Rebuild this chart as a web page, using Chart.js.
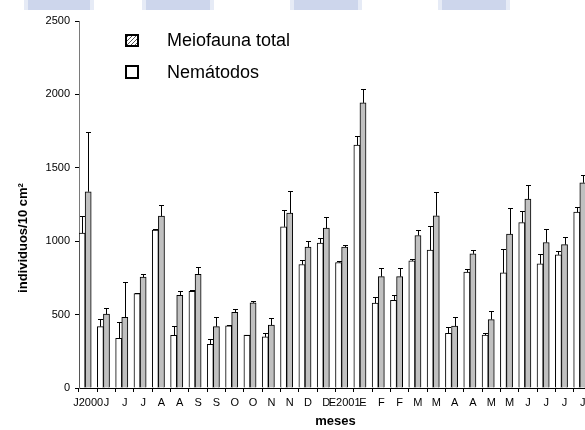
<!DOCTYPE html>
<html>
<head>
<meta charset="utf-8">
<script src="https://cdn.jsdelivr.net/npm/chart.js@4.4.1/dist/chart.umd.min.js"></script>
<style>
  html, body { margin: 0; padding: 0; background: #fff; overflow: hidden; }
  #wrap { width: 585px; height: 430px; overflow: hidden; position: relative; }
  canvas { display: block; }
</style>
</head>
<body>
<div id="wrap"><canvas id="chart" width="593" height="430"></canvas></div>
<script>
const meses = ['J2000', 'J', 'J', 'J', 'A', 'A', 'S', 'S', 'O', 'O', 'N', 'N', 'D', 'D',
               'E2001', 'E', 'F', 'F', 'M', 'M', 'A', 'A', 'M', 'M', 'J', 'J', 'J', 'J'];
const nematodos = [1055, 418, 339, 643, 1075, 359, 659, 298, 423, 361, 348, 1098, 841, 987,
                   855, 1655, 578, 598, 866, 939, 373, 789, 361, 784, 1127, 846, 907, 1198];
const nematodosErr = [120, 50, 109, 7, 5, 66, 9, 34, 4, 3, 25, 114, 32, 36,
                      9, 59, 43, 34, 12, 166, 45, 25, 12, 162, 78, 68, 25, 34];
const meiofauna = [1337, 503, 482, 755, 1171, 632, 775, 418, 516, 580, 428, 1191, 960, 1089,
                   960, 1942, 759, 759, 1039, 1173, 421, 914, 466, 1048, 1287, 991, 977, 1398];
const meiofaunaErr = [407, 40, 239, 20, 73, 32, 52, 68, 25, 11, 51, 148, 38, 75,
                      13, 95, 61, 57, 36, 159, 63, 25, 61, 180, 93, 93, 51, 52];
const yTicks = [0, 500, 1000, 1500, 2000, 2500];

const FONT = '"Liberation Sans", Arial, sans-serif';

// small diagonal hatch for the legend box
function hatchPattern(ctx) {
    const c = document.createElement('canvas');
    c.width = 4; c.height = 4;
    const p = c.getContext('2d');
    p.fillStyle = '#fff';
    p.fillRect(0, 0, 4, 4);
    p.strokeStyle = '#555';
    p.lineWidth = 1;
    p.beginPath();
    p.moveTo(0, 4); p.lineTo(4, 0);
    p.moveTo(-1, 1); p.lineTo(1, -1);
    p.moveTo(3, 5); p.lineTo(5, 3);
    p.stroke();
    return ctx.createPattern(c, 'repeat');
}

const decor = {
    id: 'decor',
    beforeDraw(chart) {
        const ctx = chart.ctx;
        ctx.save();
        ctx.fillStyle = '#fff';
        ctx.fillRect(0, 0, chart.width, chart.height);
        // scan marks along the top edge
        [[28, 90], [146, 210], [294, 358], [442, 506]].forEach(([a, b]) => {
            ctx.fillStyle = '#e6ebf6';
            ctx.fillRect(a - 4, 0, b - a + 8, 10);
            ctx.fillStyle = '#cdd6ec';
            ctx.fillRect(a, 0, b - a, 10);
        });
        ctx.restore();
    },
    afterDatasetsDraw(chart) {
        const ctx = chart.ctx;
        const y = chart.scales.y;
        const errs = [nematodosErr, meiofaunaErr];
        ctx.save();
        ctx.strokeStyle = '#000';
        ctx.lineWidth = 1;
        errs.forEach((err, di) => {
            const meta = chart.getDatasetMeta(di);
            const vals = chart.data.datasets[di].data;
            meta.data.forEach((bar, i) => {
                const x = Math.round(bar.x) + 0.5;
                const y0 = y.getPixelForValue(vals[i]);
                const y1 = Math.round(y.getPixelForValue(vals[i] + err[i])) + 0.5;
                ctx.beginPath();
                ctx.moveTo(x, y0);
                ctx.lineTo(x, y1);
                ctx.moveTo(x - 2.5, y1);
                ctx.lineTo(x + 2.5, y1);
                ctx.stroke();
            });
        });
        ctx.restore();
    },
    afterDraw(chart) {
        const ctx = chart.ctx;
        ctx.save();
        // legend
        ctx.lineWidth = 2;
        ctx.strokeStyle = '#000';
        ctx.fillStyle = hatchPattern(ctx);
        ctx.fillRect(126, 35, 12, 11);
        ctx.strokeRect(126, 35, 12, 11);
        ctx.fillStyle = '#fff';
        ctx.fillRect(126, 66, 12, 12);
        ctx.strokeRect(126, 66, 12, 12);
        ctx.fillStyle = '#000';
        ctx.font = '18px ' + FONT;
        ctx.textBaseline = 'middle';
        ctx.textAlign = 'left';
        ctx.fillText('Meiofauna total', 167, 41);
        ctx.fillText('Nemátodos', 167, 73);
        // y axis title
        ctx.translate(23, 238);
        ctx.rotate(-Math.PI / 2);
        ctx.textAlign = 'center';
        ctx.font = 'bold 13px ' + FONT;
        ctx.fillText('individuos/10 cm²', 0, 0);
        ctx.restore();
    }
};

new Chart(document.getElementById('chart'), {
    type: 'bar',
    data: {
        labels: meses,
        datasets: [
            {
                label: 'Nemátodos',
                data: nematodos,
                backgroundColor: '#ffffff',
                borderColor: '#000000',
                borderWidth: 1
            },
            {
                label: 'Meiofauna total',
                data: meiofauna,
                backgroundColor: '#c0c0c0',
                borderColor: '#000000',
                borderWidth: 1
            },
            {
                label: '',
                data: meses.map(() => null)
            }
        ]
    },
    options: {
        responsive: false,
        animation: false,
        events: [],
        categoryPercentage: 1,
        barPercentage: 1,
        layout: { padding: { top: 21, left: 0, right: 1, bottom: 0 } },
        plugins: { legend: { display: false }, tooltip: { enabled: false } },
        scales: {
            x: {
                afterFit(scale) { scale.height = 42; },
                grid: { drawOnChartArea: false, drawTicks: true, tickLength: 4, color: '#000', offset: true },
                border: { color: '#000', width: 1 },
                ticks: {
                    autoSkip: false, maxRotation: 0, minRotation: 0, padding: 4,
                    color: '#000', font: { family: FONT, size: 11 }
                },
                title: {
                    display: true, text: 'meses', color: '#000',
                    font: { family: FONT, size: 13, weight: 'bold' },
                    padding: { top: 0, bottom: 1 }
                }
            },
            y: {
                min: 0,
                max: 2500,
                afterFit(scale) { scale.width = 79; },
                afterBuildTicks(scale) { scale.ticks = yTicks.map(v => ({ value: v })); },
                grid: { drawOnChartArea: false, drawTicks: true, tickLength: 4, color: '#000' },
                border: { color: '#7a7a7a', width: 1 },
                ticks: {
                    padding: 5, color: '#000', font: { family: FONT, size: 11 },
                    callback: v => String(v)
                }
            }
        }
    },
    plugins: [decor]
});
</script>
</body>
</html>
